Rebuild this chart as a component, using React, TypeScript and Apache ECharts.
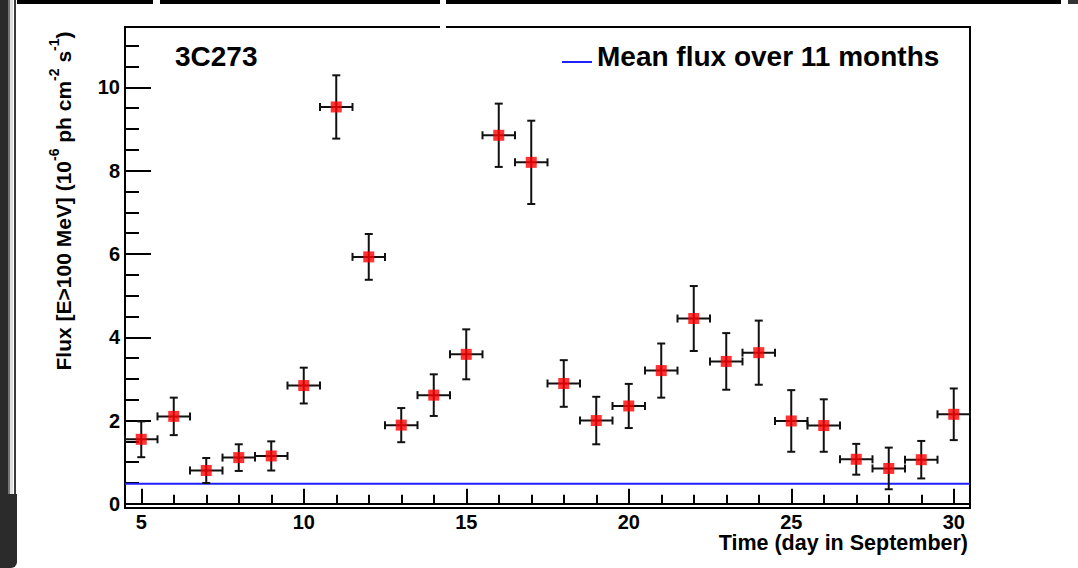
import React, { useEffect, useRef } from "react";
import * as echarts from "echarts";

// ---- data ----
const days = [5, 6, 7, 8, 9, 10, 11, 12, 13, 14, 15, 16, 17, 18, 19, 20, 21, 22, 23, 24, 25, 26, 27, 28, 29, 30];
const flux = [1.55, 2.1, 0.8, 1.11, 1.15, 2.84, 9.53, 5.93, 1.89, 2.61, 3.59, 8.85, 8.2, 2.89, 2.0, 2.35, 3.2, 4.45, 3.42, 3.63, 1.99, 1.88, 1.07, 0.85, 1.06, 2.15];
const fluxErr = [0.43, 0.45, 0.3, 0.32, 0.35, 0.43, 0.76, 0.55, 0.41, 0.5, 0.6, 0.76, 1.0, 0.56, 0.57, 0.53, 0.65, 0.78, 0.68, 0.77, 0.74, 0.63, 0.37, 0.5, 0.45, 0.62];
const binHalfWidth = 0.5;
const meanFlux = 0.48;
const meanLabel = "Mean flux over 11 months";
const sourceName = "3C273";

const xRange = [4.5, 30.5];
const yRange = [-0.1, 11.45];
const xMajorTicks = [5, 10, 15, 20, 25, 30];
const xMinorTicks = [5, 6, 7, 8, 9, 10, 11, 12, 13, 14, 15, 16, 17, 18, 19, 20, 21, 22, 23, 24, 25, 26, 27, 28, 29, 30];
const yMajorTicks = [0, 2, 4, 6, 8, 10];
const yMinorTicks = [0.5, 1, 1.5, 2.5, 3, 3.5, 4.5, 5, 5.5, 6.5, 7, 7.5, 8.5, 9, 9.5, 10.5, 11];

const FONT = "'Liberation Sans', Arial, Helvetica, sans-serif";
const MEAN_COLOR = "#1f1fff";

export default function App() {
  const ref = useRef<HTMLDivElement>(null);
  useEffect(() => {
    document.body.style.margin = "0";
    const chart = echarts.init(ref.current!, null, { renderer: "svg" });
    const points = days.map((d, i) => [d, flux[i], fluxErr[i]]);
    const tickLine = { color: "#000", width: 2 };
    const option: any = {
      animation: false,
      backgroundColor: "#fff",
      grid: { left: 125, top: 27, width: 845, height: 481, show: true, borderColor: "#000", borderWidth: 2, backgroundColor: "transparent" },
      xAxis: [
        {
          type: "value", min: xRange[0], max: xRange[1], position: "bottom",
          axisLine: { lineStyle: tickLine },
          axisTick: { inside: true, length: 15, customValues: xMajorTicks, lineStyle: tickLine },
          axisLabel: { customValues: xMajorTicks, fontSize: 20, fontWeight: "bold", color: "#000", margin: 4, fontFamily: FONT },
          splitLine: { show: false },
        },
        {
          type: "value", min: xRange[0], max: xRange[1], position: "bottom",
          axisLine: { show: false },
          axisTick: { inside: true, length: 9, customValues: xMinorTicks, lineStyle: tickLine },
          axisLabel: { show: false },
          splitLine: { show: false },
        },
      ],
      yAxis: [
        {
          type: "value", min: yRange[0], max: yRange[1], position: "left",
          axisLine: { show: true, lineStyle: tickLine },
          axisTick: { show: true, inside: true, length: 26, customValues: yMajorTicks, lineStyle: tickLine },
          axisLabel: { customValues: yMajorTicks, fontSize: 20, fontWeight: "bold", color: "#000", margin: 5, fontFamily: FONT },
          splitLine: { show: false },
        },
        {
          type: "value", min: yRange[0], max: yRange[1], position: "left",
          axisLine: { show: false },
          axisTick: { show: true, inside: true, length: 14, customValues: yMinorTicks, lineStyle: tickLine },
          axisLabel: { show: false },
          splitLine: { show: false },
        },
      ],
      series: [
        {
          name: meanLabel, type: "line", xAxisIndex: 0, yAxisIndex: 0,
          data: [[xRange[0], meanFlux], [xRange[1], meanFlux]],
          symbol: "none", lineStyle: { color: MEAN_COLOR, width: 2 }, itemStyle: { color: MEAN_COLOR }, z: 2,
        },
        {
          name: "errors", type: "custom", xAxisIndex: 0, yAxisIndex: 0, data: points, z: 3,
          renderItem: (params: any, api: any) => {
            const x = api.value(0), y = api.value(1), e = api.value(2);
            const hi = api.coord([x, y + e]);
            const lo = api.coord([x, y - e]);
            const l = api.coord([x - binHalfWidth, y]);
            const r = api.coord([x + binHalfWidth, y]);
            const c = 4;
            const st = { stroke: "#111", lineWidth: 2 };
            const ln = (x1: number, y1: number, x2: number, y2: number) => ({ type: "line", shape: { x1, y1, x2, y2 }, style: st });
            return {
              type: "group",
              children: [
                ln(hi[0], hi[1], lo[0], lo[1]),
                ln(l[0], l[1], r[0], r[1]),
                ln(hi[0] - c, hi[1], hi[0] + c, hi[1]),
                ln(lo[0] - c, lo[1], lo[0] + c, lo[1]),
                ln(l[0], l[1] - c, l[0], l[1] + c),
                ln(r[0], r[1] - c, r[0], r[1] + c),
              ],
            };
          },
        },
        {
          name: "flux", type: "scatter", xAxisIndex: 0, yAxisIndex: 0,
          data: days.map((d, i) => [d, flux[i]]),
          symbol: "rect", symbolSize: 11, itemStyle: { color: "#ff0000" }, z: 4,
        },
      ],
      graphic: [
        // page decorations (frame of the screenshot)
        { type: "rect", shape: { x: 0, y: 0, width: 8, height: 568 }, style: { fill: "#2b2b2b" }, silent: true },
        { type: "rect", shape: { x: 8, y: 0, width: 2, height: 494 }, style: { fill: "#777" }, silent: true },
        { type: "rect", shape: { x: 10, y: 0, width: 3, height: 494 }, style: { fill: "#dedede" }, silent: true },
        { type: "rect", shape: { x: 14, y: 0, width: 2, height: 494 }, style: { fill: "#3a3a3a" }, silent: true },
        { type: "rect", shape: { x: 0, y: 494, width: 17, height: 74, r: [0, 0, 6, 0] }, style: { fill: "#2b2b2b" }, silent: true },
        { type: "rect", shape: { x: 17, y: 0, width: 1044, height: 4 }, style: { fill: "#000" }, silent: true },
        { type: "rect", shape: { x: 1068, y: 0, width: 10, height: 4 }, style: { fill: "#333" }, silent: true },
        { type: "rect", shape: { x: 153, y: 0, width: 7, height: 5 }, style: { fill: "#fff" }, silent: true },
        { type: "rect", shape: { x: 440, y: 0, width: 6, height: 30 }, style: { fill: "#fff" }, silent: true, z: 100 },
        // legend
        { type: "line", shape: { x1: 562, y1: 62, x2: 592, y2: 62 }, style: { stroke: MEAN_COLOR, lineWidth: 2 }, silent: true },
        {
          type: "text", x: 597, y: 56, silent: true,
          style: { text: meanLabel, font: `bold 28px ${FONT}`, fill: "#000", verticalAlign: "middle", align: "left" },
        },
        // plot texts
        {
          type: "text", x: 175, y: 56, silent: true,
          style: { text: sourceName, font: `bold 28px ${FONT}`, fill: "#000", verticalAlign: "middle", align: "left" },
        },
        {
          type: "text", x: 968, y: 543, silent: true,
          style: { text: "Time (day in September)", font: `bold 21.5px ${FONT}`, fill: "#000", verticalAlign: "middle", align: "right" },
        },
        {
          type: "text", x: 60, y: 201, rotation: Math.PI / 2, silent: true,
          style: {
            text: "{n|Flux [E>100 MeV] (10}{s|-6}{n| ph cm}{s|-2}{n| s}{s|-1}{n|)}",
            align: "center", verticalAlign: "middle", fill: "#000",
            rich: {
              n: { fontSize: 21, fontWeight: "bold", fontFamily: FONT, lineHeight: 27, verticalAlign: "bottom", fill: "#000" },
              s: { fontSize: 14, fontWeight: "bold", fontFamily: FONT, lineHeight: 15, verticalAlign: "top", fill: "#000" },
            },
          },
        },
      ],
    };
    chart.setOption(option);
    return () => chart.dispose();
  }, []);
  return <div ref={ref} style={{ position: "fixed", left: 0, top: 0, width: 1078, height: 568 }} />;
}
